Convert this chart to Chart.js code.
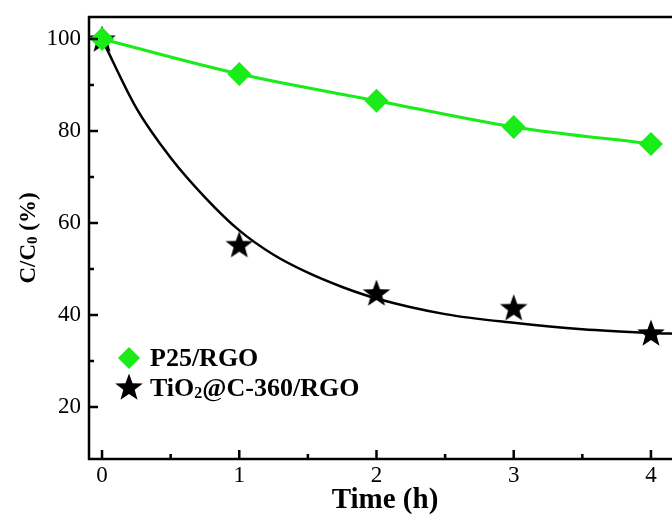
<!DOCTYPE html>
<html>
<head>
<meta charset="utf-8">
<script src="https://cdn.jsdelivr.net/npm/chart.js@4"></script>
<style>
html, body { margin: 0; padding: 0; background: #fff; overflow: hidden; }
</style>
</head>
<body>
<canvas id="chart" width="700" height="522"></canvas>
<script>
// data
const timeHours = [0, 1, 2, 3, 4];
const p25Rgo = [100, 92.4, 86.6, 80.9, 77.2];
const tio2Rgo = [100, 55.3, 44.8, 41.6, 36.1];
// fitted curve of the TiO2@C-360/RGO series, read at these times
const fitTime = [0, 0.25, 0.5, 0.75, 1, 1.25, 1.5, 1.75, 2, 2.5, 3, 3.5, 4, 4.2];
const fitTio2 = [100, 85, 74.2, 65.6, 58.4, 53.1, 49.2, 46.1, 43.6, 40.2, 38.3, 36.9, 36.1, 35.9];

const xTicks = [0, 1, 2, 3, 4];
const xMinorTicks = [0.5, 1.5, 2.5, 3.5];
const yTicks = [20, 40, 60, 80, 100];
const yMinorTicks = [30, 50, 70, 90];

const GREEN = "#19ec19";
const SERIF = "'Liberation Serif', 'Times New Roman', serif";

// filled five-point star used as point style
function starPath(ctx, cx, cy, R, r) {
    ctx.beginPath();
    for (let i = 0; i < 10; i++) {
        const rad = i % 2 ? r : R;
        const a = -Math.PI / 2 + i * Math.PI / 5;
        ctx.lineTo(cx + rad * Math.cos(a), cy + rad * Math.sin(a));
    }
    ctx.closePath();
}
const starImg = document.createElement("canvas");
starImg.width = 30;
starImg.height = 30;
{
    const c = starImg.getContext("2d");
    c.fillStyle = "#000";
    starPath(c, 15, 16, 14.5, 6);
    c.fill();
}

const toPoints = (xs, ys) => xs.map((x, i) => ({x, y: ys[i]}));

// no extra padding from tick labels, so the plot area sits where the layout says
const noScalePad = s => {
    s.paddingTop = 0;
    s.paddingBottom = 0;
    s.paddingLeft = 0;
    s.paddingRight = 0;
};

const decorPlugin = {
    id: "decor",
    afterDraw(chart) {
        const {ctx, chartArea: a, scales: {x, y}} = chart;
        ctx.save();
        ctx.strokeStyle = "#000";
        ctx.lineWidth = 2.5;
        ctx.strokeRect(a.left, a.top, a.right - a.left, a.bottom - a.top);

        // inward ticks
        ctx.beginPath();
        xTicks.forEach(v => { const p = x.getPixelForValue(v); ctx.moveTo(p, a.bottom); ctx.lineTo(p, a.bottom - 9); });
        xMinorTicks.forEach(v => { const p = x.getPixelForValue(v); ctx.moveTo(p, a.bottom); ctx.lineTo(p, a.bottom - 5); });
        yTicks.forEach(v => { const p = y.getPixelForValue(v); ctx.moveTo(a.left, p); ctx.lineTo(a.left + 9, p); });
        yMinorTicks.forEach(v => { const p = y.getPixelForValue(v); ctx.moveTo(a.left, p); ctx.lineTo(a.left + 5, p); });
        ctx.stroke();

        // legend
        ctx.fillStyle = GREEN;
        ctx.beginPath();
        ctx.moveTo(129, 347); ctx.lineTo(140, 358); ctx.lineTo(129, 369); ctx.lineTo(118, 358);
        ctx.closePath();
        ctx.fill();
        ctx.drawImage(starImg, 114, 372);

        ctx.fillStyle = "#000";
        ctx.textBaseline = "alphabetic";
        ctx.textAlign = "left";
        ctx.font = "bold 26px " + SERIF;
        ctx.fillText("P25/RGO", 150, 366);
        let tx = 150;
        ctx.fillText("TiO", tx, 396);
        tx += ctx.measureText("TiO").width;
        ctx.font = "bold 16px " + SERIF;
        ctx.fillText("2", tx, 398);
        tx += ctx.measureText("2").width;
        ctx.font = "bold 26px " + SERIF;
        ctx.fillText("@C-360/RGO", tx, 396);

        // x axis title
        ctx.textAlign = "center";
        ctx.font = "bold 29px " + SERIF;
        ctx.fillText("Time (h)", 385, 508);

        // y axis title with subscript
        ctx.translate(35, 238);
        ctx.rotate(-Math.PI / 2);
        ctx.textAlign = "left";
        ctx.font = "bold 23px " + SERIF;
        const w1 = ctx.measureText("C/C").width;
        const w3 = ctx.measureText(" (%)").width;
        ctx.font = "bold 15px " + SERIF;
        const w2 = ctx.measureText("0").width;
        let sx = -(w1 + w2 + w3) / 2;
        ctx.font = "bold 23px " + SERIF;
        ctx.fillText("C/C", sx, 0);
        sx += w1;
        ctx.font = "bold 15px " + SERIF;
        ctx.fillText("0", sx, 2);
        sx += w2;
        ctx.font = "bold 23px " + SERIF;
        ctx.fillText(" (%)", sx, 0);
        ctx.restore();
    }
};

const data = {
    datasets: [
        {
            label: "P25/RGO",
            data: toPoints(timeHours, p25Rgo),
            showLine: true,
            borderColor: GREEN,
            backgroundColor: GREEN,
            borderWidth: 3,
            pointStyle: "rectRot",
            pointRadius: 12,
            pointBorderWidth: 0,
            cubicInterpolationMode: "monotone",
            order: 0,
        },
        {
            label: "TiO2@C-360/RGO",
            data: toPoints(timeHours, tio2Rgo),
            showLine: false,
            pointStyle: starImg,
            order: 1,
        },
        {
            label: "fit",
            data: toPoints(fitTime, fitTio2),
            showLine: true,
            borderColor: "#000",
            borderWidth: 2.5,
            pointRadius: 0,
            cubicInterpolationMode: "monotone",
            order: 2,
        },
    ],
};

const options = {
    responsive: false,
    animation: false,
    layout: {padding: {top: 17, right: 7, left: 0, bottom: 0}},
    plugins: {
        legend: {display: false},
        tooltip: {enabled: false},
    },
    scales: {
        x: {
            type: "linear",
            min: -0.095,
            max: 4.27,
            afterBuildTicks: s => { s.ticks = xTicks.map(v => ({value: v})); },
            afterFit: s => { s.height = 63; noScalePad(s); },
            grid: {display: false, drawTicks: false},
            border: {display: false},
            ticks: {
                color: "#000",
                padding: 3,
                font: {family: SERIF, size: 23},
                maxRotation: 0,
            },
        },
        y: {
            type: "linear",
            min: 8.7,
            max: 104.8,
            afterBuildTicks: s => { s.ticks = yTicks.map(v => ({value: v})); },
            afterFit: s => { s.width = 89; noScalePad(s); },
            grid: {display: false, drawTicks: false},
            border: {display: false},
            ticks: {
                color: "#000",
                padding: 8,
                font: {family: SERIF, size: 23},
            },
        },
    },
};

new Chart(document.getElementById("chart").getContext("2d"), {
    type: "scatter",
    data,
    options,
    plugins: [decorPlugin],
});
</script>
</body>
</html>
